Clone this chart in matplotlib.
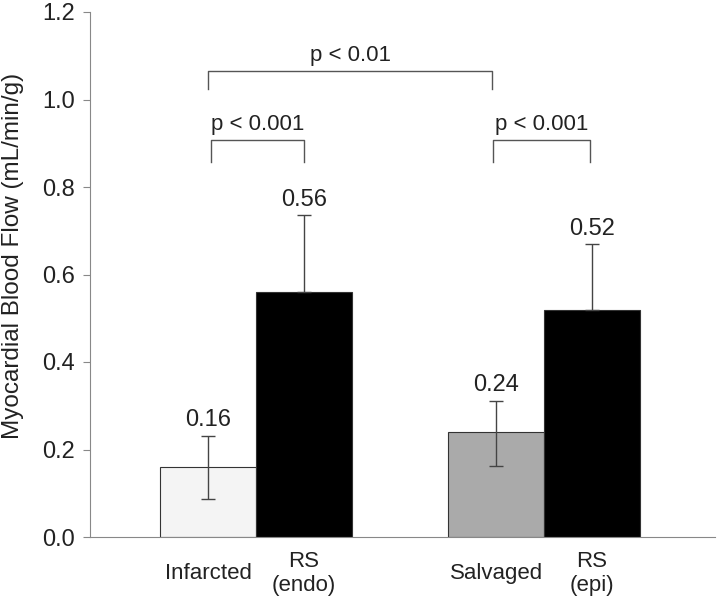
import matplotlib
matplotlib.use("Agg")
import matplotlib.pyplot as plt
import numpy as np

plt.rcParams['font.family'] = ['Liberation Sans', 'DejaVu Sans']

# data
groups = ['Infarcted', 'RS\n(endo)', 'Salvaged', 'RS\n(epi)']
positions = [0, 1, 3, 4]
flow = [0.16, 0.56, 0.24, 0.52]
err_up = [0.072, 0.175, 0.072, 0.15]
err_down = [0.072, 0.0, 0.078, 0.0]
value_labels = ['0.16', '0.56', '0.24', '0.52']
bar_colors = ['#f4f4f4', '#000000', '#aaaaaa', '#000000']

# significance brackets: (x1, x2, y, drop, text)
brackets = [(0, 2.96, 1.065, 0.04, 'p < 0.01'),
            (0.03, 1.0, 0.907, 0.05, 'p < 0.001'),
            (2.97, 3.98, 0.907, 0.05, 'p < 0.001')]

fig = plt.figure(figsize=(7.2, 6), dpi=100)
ax = fig.add_axes([0.125, 0.105, 0.868, 0.875])

ax.bar(positions, flow, width=1.0, color=bar_colors, edgecolor='#333333', linewidth=0.8)
ax.errorbar(positions, flow, yerr=[err_down, err_up], fmt='none',
            ecolor='#444444', elinewidth=1, capsize=5, capthick=1)

for x, v, e, t in zip(positions, flow, err_up, value_labels):
    ax.annotate(t, (x, v + e), xytext=(0, 3), textcoords='offset points',
                ha='center', va='bottom', fontsize=17, color='#222222')

for x1, x2, y, d, t in brackets:
    ax.plot([x1, x1, x2, x2], [y - d, y, y, y - d], color='#555555', lw=1)
    ax.text((x1 + x2) / 2, y + 0.012, t, ha='center', va='bottom',
            fontsize=16, color='#222222')

ax.set_xlim(-1.23, 5.28)
ax.set_ylim(0, 1.2)
ax.set_yticks(np.arange(0, 1.21, 0.2))
ax.set_yticklabels(['%.1f' % v for v in np.arange(0, 1.21, 0.2)])
ax.set_xticks(positions)
ax.set_xticklabels(groups, va='center')
ax.tick_params(axis='x', length=0, pad=26, labelsize=16, labelcolor='#222222')
ax.tick_params(axis='y', length=5, color='#888888', labelsize=17, labelcolor='#222222', pad=6)
ax.set_ylabel('Myocardial Blood Flow (mL/min/g)', fontsize=17.5, color='#222222')
ax.yaxis.set_label_coords(-0.106, 0.535)

for s in ['top', 'right']:
    ax.spines[s].set_visible(False)
for s in ['left', 'bottom']:
    ax.spines[s].set_color('#888888')

fig.savefig('out.png', dpi=100)
